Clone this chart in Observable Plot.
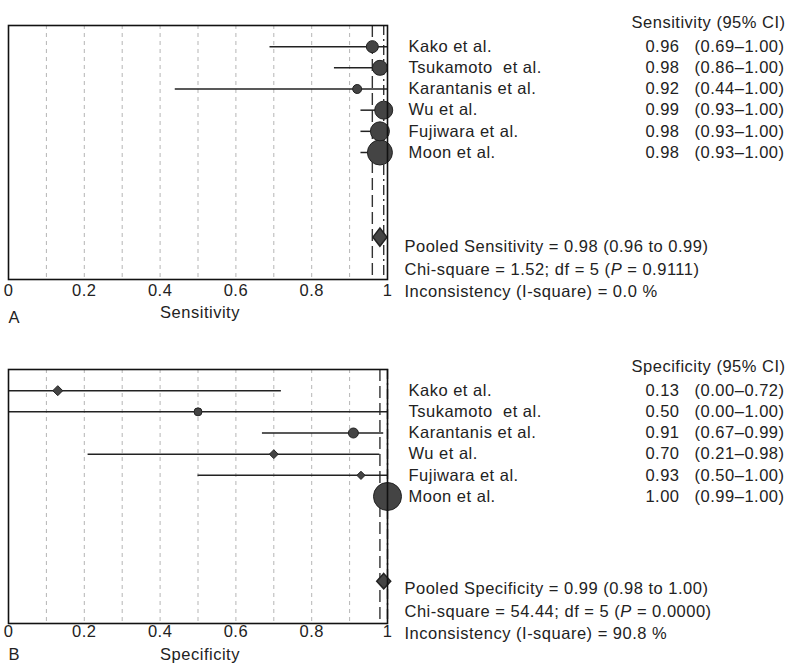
<!DOCTYPE html>
<html><head><meta charset="utf-8">
<script src="https://cdn.jsdelivr.net/npm/d3@7"></script>
<script src="https://cdn.jsdelivr.net/npm/@observablehq/plot@0.6"></script>
<style>
body{margin:0;background:#fff;font-family:"Liberation Sans",Arial,sans-serif;}
svg{display:block}
svg text{letter-spacing:0.5px}
</style></head><body><div id="chart"></div>
<script>
const studies = ["Kako et al.","Tsukamoto  et al.","Karantanis et al.","Wu et al.","Fujiwara et al.","Moon et al."];
const sensEst = [0.96,0.98,0.92,0.99,0.98,0.98];
const sensLo  = [0.69,0.86,0.44,0.93,0.93,0.93];
const sensHi  = [1.00,1.00,1.00,1.00,1.00,1.00];
const sensSize = [6,7.5,4.5,9,9.5,12.5];
const sensSym = ["circle","circle","circle","circle","circle","circle"];
const specEst = [0.13,0.50,0.91,0.70,0.93,1.00];
const specLo  = [0.00,0.00,0.67,0.21,0.50,0.99];
const specHi  = [0.72,1.00,0.99,0.98,1.00,1.00];
const specSize = [4.5,4,5,4,3.7,14];
const specSym = ["diamond2","circle","circle","diamond2","diamond2","circle"];
const pooledSens = {est:0.98, lo:0.96, hi:0.99};
const pooledSpec = {est:0.99, lo:0.98, hi:1.00};
const sensStats = ["Pooled Sensitivity = 0.98 (0.96 to 0.99)","Chi-square = 1.52; df = 5 (P = 0.9111)","Inconsistency (I-square) = 0.0 %"];
const specStats = ["Pooled Specificity = 0.99 (0.98 to 1.00)","Chi-square = 54.44; df = 5 (P = 0.0000)","Inconsistency (I-square) = 90.8 %"];
const xTicks = [0,0.2,0.4,0.6,0.8,1];
const gridTicks = [0.1,0.2,0.3,0.4,0.5,0.6,0.7,0.8,0.9];

const FONT = "Liberation Sans, Arial, Helvetica, sans-serif";
const FS = 16.5;
const ink = "#222";
const dotFill = "#444";

function diamondSymbol(ratio) {
  return {draw(ctx, size) {
    const r = Math.sqrt(size / Math.PI);
    ctx.moveTo(0, -r * ratio); ctx.lineTo(r, 0); ctx.lineTo(0, r * ratio); ctx.lineTo(-r, 0); ctx.closePath();
  }};
}

function panel(o) {
  const rows = studies.map((s,i)=>({name:s,row:i+1,est:o.est[i],lo:o.lo[i],hi:o.hi[i],r:o.size[i],sym:o.sym[i],
    val:o.est[i].toFixed(2), ci:`(${o.lo[i].toFixed(2)}–${o.hi[i].toFixed(2)})`}));
  const pooledRow = 10;
  const one = () => 1;
  const marks = [
    Plot.ruleX(gridTicks, {stroke:"#b5b5b5", strokeWidth:1, strokeDasharray:"4,4"}),
    Plot.ruleX([o.pooled.lo], {stroke:"#333", strokeWidth:1.4, strokeDasharray:"12,5"}),
    Plot.ruleX([o.pooled.hi], {stroke:"#333", strokeWidth:1.4, strokeDasharray:"10,4,2,4"}),
    Plot.ruleY(rows, {y:"row", x1:"lo", x2:"hi", stroke:ink, strokeWidth:1.5}),
    Plot.dot(rows.filter(d=>d.sym==="circle"), {x:"est", y:"row", r:"r", fill:dotFill, stroke:"#222", strokeWidth:1, symbol:"circle"}),
    Plot.dot(rows.filter(d=>d.sym!=="circle"), {x:"est", y:"row", r:"r", fill:dotFill, stroke:"#222", strokeWidth:1, symbol:"diamond2"}),
    Plot.dot([o.pooled], {x:"est", y:()=>pooledRow, r:7, fill:dotFill, stroke:"#222", symbol:diamondSymbol(o.diamondRatio)}),
    Plot.frame({stroke:"#111", strokeWidth:1.6}),
    Plot.axisX(xTicks, {tickSize:0, tickPadding:o.tickPad, fontSize:FS, tickFormat:d=>String(d), label:null}),
    Plot.text(rows, {x:one, y:"row", text:"name", dx:21, textAnchor:"start", fontSize:FS, fill:ink}),
    Plot.text(rows, {x:one, y:"row", text:"val", dx:292, textAnchor:"end", fontSize:FS, fill:ink}),
    Plot.text(rows, {x:one, y:"row", text:"ci", dx:397, textAnchor:"end", fontSize:FS, fill:ink}),
    Plot.text([o.header], {x:one, frameAnchor:"top", dy:o.headDy, dx:398, textAnchor:"end", fontSize:FS, fill:ink}),
    Plot.text([o.stats[0]], {x:one, y:()=>pooledRow, dx:17, dy:o.statDy, textAnchor:"start", fontSize:FS, fill:ink}),
    Plot.text([o.stats[1]], {x:one, y:()=>pooledRow, dx:17, dy:o.statDy+22.5, textAnchor:"start", fontSize:FS, fill:ink}),
    Plot.text([o.stats[2]], {x:one, y:()=>pooledRow, dx:17, dy:o.statDy+45, textAnchor:"start", fontSize:FS, fill:ink}),
    Plot.text([o.xlabel], {frameAnchor:"bottom", dy:o.labDy, dx:2, fontSize:FS, fill:ink}),
    Plot.text([o.tag], {frameAnchor:"bottom-left", dy:o.tagDy, textAnchor:"start", fontSize:FS, fill:ink})
  ];
  const svg = Plot.plot({
    width:800, height:o.height,
    marginTop:o.top, marginBottom:o.height-o.bottom, marginLeft:8, marginRight:413,
    x:{domain:[0,1]},
    y:{domain:[0,12], reverse:true, axis:null},
    r:{type:"identity"},
    style:{fontFamily:FONT, fontSize:FS+"px", background:"white", color:ink, overflow:"visible"},
    marks
  });
  svg.querySelectorAll("text").forEach(t=>{
    const s = t.textContent;
    if (s.includes("(P = ")) {
      const [a,b] = s.split("(P = ");
      t.textContent = "";
      const ns = "http://www.w3.org/2000/svg";
      const t1 = document.createElementNS(ns,"tspan"); t1.textContent = a + "(";
      const t2 = document.createElementNS(ns,"tspan"); t2.textContent = "P"; t2.setAttribute("font-style","italic");
      const t3 = document.createElementNS(ns,"tspan"); t3.textContent = " = " + b;
      t.append(t1,t2,t3);
    }
  });
  return svg;
}

const chart = document.getElementById("chart");
chart.append(panel({est:sensEst, lo:sensLo, hi:sensHi, size:sensSize, sym:sensSym, pooled:pooledSens,
  header:"Sensitivity (95% CI)", stats:sensStats, xlabel:"Sensitivity", tag:"A", diamondRatio:1.3,
  height:340, top:25, bottom:279, tickPad:5, headDy:-9, statDy:10, labDy:38, tagDy:43}));
chart.append(panel({est:specEst, lo:specLo, hi:specHi, size:specSize, sym:specSym, pooled:pooledSpec,
  header:"Specificity (95% CI)", stats:specStats, xlabel:"Specificity", tag:"B", diamondRatio:1.1,
  height:328, top:29, bottom:283, tickPad:2, headDy:-9, statDy:8, labDy:36, tagDy:36}));
</script></body></html>
